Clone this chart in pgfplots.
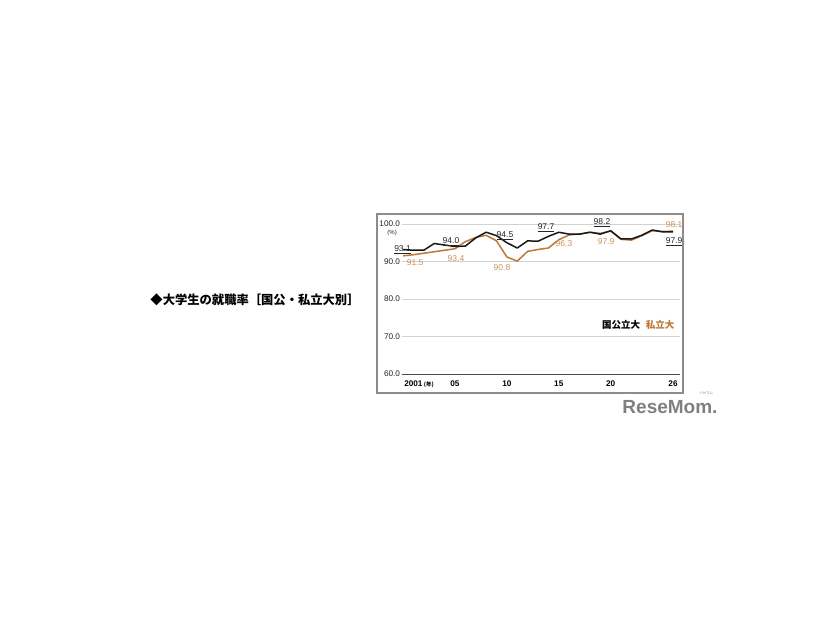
\documentclass[border=0pt]{standalone}
\usepackage{fontspec}
\setmainfont{Liberation Sans}
\newfontfamily\jp{Noto Sans CJK JP}
\usepackage{pgfplots}
\pgfplotsset{compat=1.18}
\definecolor{priv}{HTML}{BE7834}
\definecolor{privlab}{HTML}{C8925A}
\definecolor{framec}{HTML}{8C8C8C}
\newcommand{\lab}{\fontsize{8.5}{9}\selectfont}
\begin{document}
\begin{tikzpicture}
\fill[white] (0pt,0pt) rectangle (826pt,620pt);
\draw[framec, line width=1.2pt] (377pt,406pt) rectangle (683pt,227pt);
\node[font=\jp\bfseries\fontsize{12.3}{12}\selectfont] at (255pt,320pt) {◆大学生の就職率［国公・私立大別］};
\begin{axis}[at={(402pt,246pt)}, anchor=south west, width=278pt, height=150pt, scale only axis,
  xmin=1999.9, xmax=2026.673, ymin=60, ymax=100, clip=false,
  axis line style={draw=none}, major tick length=0pt,
  ymajorgrids, major grid style={black!18, line width=0.6pt},
  ytick={60,70,80,90,100}, yticklabels={60.0,70.0,80.0,90.0,100.0},
  yticklabel style={font=\fontsize{8.2}{9}\selectfont, color=black!85, xshift=1.5pt},
  xtick={2001,2005,2010,2015,2020,2026},
  xticklabels={2001\rlap{\,\jp\fontsize{5.5}{5}\selectfont (年)},05,10,15,20,26},
  xticklabel style={font=\bfseries\fontsize{8.2}{9}\selectfont, yshift=-3.5pt},
]
\draw[black!70, line width=0.8pt] (axis cs:1999.9,60) -- (axis cs:2026.673,60);
\addplot[priv, line width=1.5pt, line join=round] table {
x y
2000 91.5
2001 91.8
2002 92.2
2003 92.6
2004 93.0
2005 93.4
2006 95.3
2007 96.4
2008 97.0
2009 95.5
2010 91.2
2011 90.1
2012 92.7
2013 93.2
2014 93.6
2015 95.8
2016 97.1
2017 97.3
2018 97.8
2019 97.5
2020 98.1
2021 95.9
2022 95.7
2023 96.9
2024 98.2
2025 98.0
2026 98.1
};
\addplot[black!90, line width=1.5pt, line join=round] table {
x y
2000 93.2
2001 93.0
2002 93.0
2003 94.8
2004 94.4
2005 94.0
2006 94.1
2007 96.3
2008 97.8
2009 96.9
2010 95.0
2011 93.6
2012 95.5
2013 95.4
2014 96.7
2015 97.8
2016 97.3
2017 97.3
2018 97.8
2019 97.3
2020 98.2
2021 96.0
2022 96.0
2023 97.0
2024 98.4
2025 97.9
2026 97.9
};
\node[font=\lab, black!85] at (axis cs:1999.95,93.07) {\underline{93.1}};
\node[font=\lab, privlab] at (axis cs:2001.16,89.6) {91.5};
\node[font=\lab, black!85] at (axis cs:2004.62,95.2) {\underline{94.0}};
\node[font=\lab, privlab] at (axis cs:2005.1,90.7) {93.4};
\node[font=\lab, black!85] at (axis cs:2009.82,96.8) {\underline{94.5}};
\node[font=\lab, privlab] at (axis cs:2009.53,88.5) {90.8};
\node[font=\lab, black!85] at (axis cs:2013.77,98.93) {\underline{97.7}};
\node[font=\lab, privlab] at (axis cs:2015.5,94.67) {96.3};
\node[font=\lab, black!85] at (axis cs:2019.16,100.27) {\underline{98.2}};
\node[font=\lab, privlab] at (axis cs:2019.55,95.2) {97.9};
\node[font=\lab, privlab] at (axis cs:2026.1,99.73) {98.1};
\node[font=\lab, black!85] at (axis cs:2026.1,95.2) {\underline{97.9}};
\node[font=\fontsize{6}{6}\selectfont, black!85] at (axis cs:1998.95,97.6) {(\%)};
\node[font=\jp\bfseries\fontsize{9.5}{9}\selectfont, black] at (axis cs:2020.99,73.07) {国公立大};
\node[font=\jp\bfseries\fontsize{9.5}{9}\selectfont, priv] at (axis cs:2024.75,73.07) {私立大};
\end{axis}
\node[font=\bfseries\fontsize{19}{20}\selectfont, color=black!50] at (670pt,213pt) {ReseMom.};
\node[font=\jp\fontsize{3.5}{4}\selectfont, color=black!50] at (706pt,227pt) {リセマム};
\end{tikzpicture}
\end{document}
